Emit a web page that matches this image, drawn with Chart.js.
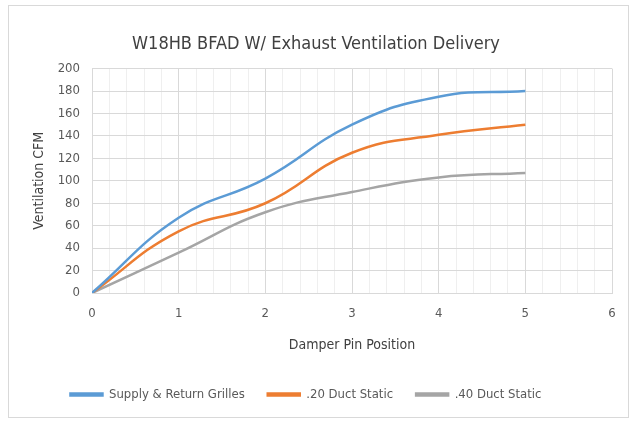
<!DOCTYPE html>
<html>
<head>
<meta charset="utf-8">
<script src="https://cdn.jsdelivr.net/npm/chart.js@4/dist/chart.umd.min.js"></script>
<style>
  html, body { margin: 0; padding: 0; background: #fff; }
  #wrap { width: 633px; height: 423px; position: relative; }
</style>
</head>
<body>
<div id="wrap"><canvas id="lineChart" width="633" height="423"></canvas></div>
<script>
// dados
var positions = [0, 1, 2, 3, 4, 5];
var supplyReturn = [0, 67, 102, 150, 175, 180];
var duct20 = [0, 55, 80, 125, 141, 150];
var duct40 = [0, 36, 72, 90, 103, 107];
var seriesNames = ['Supply & Return Grilles', '.20 Duct Static', '.40 Duct Static'];
var xTicks = [0, 1, 2, 3, 4, 5, 6];
var yTicks = [0, 20, 40, 60, 80, 100, 120, 140, 160, 180, 200];

function toPoints(values) {
    return values.map(function(v, i) { return { x: positions[i], y: v }; });
}

function isMajor(v) {
    return Math.abs(v - Math.round(v)) < 1e-6;
}

// moldura cinza em volta do grafico + titulo um pouco para a direita
var frame = {
    id: 'frame',
    afterLayout: function(chart) {
        if (chart.titleBlock) {
            chart.titleBlock.left += 10;
            chart.titleBlock.right += 10;
        }
    },
    beforeDraw: function(chart) {
        var c = chart.ctx;
        c.save();
        c.fillStyle = '#ffffff';
        c.fillRect(0, 0, chart.width, chart.height);
        c.strokeStyle = '#d9d9d9';
        c.lineWidth = 1;
        c.strokeRect(8.5, 5.5, 620, 412);
        c.restore();
    }
};

var ctx = document.getElementById('lineChart').getContext('2d');
var fontFam = "'Liberation Sans Narrow', 'DejaVu Sans Condensed', Roboto, sans-serif";

var colors = ['#5b9bd5', '#ed7d31', '#a5a5a5'];
var allSeries = [supplyReturn, duct20, duct40];

var data = {
    datasets: allSeries.map(function(s, i) {
        return {
            label: seriesNames[i],
            data: toPoints(s),
            borderColor: colors[i],
            backgroundColor: colors[i],
            borderWidth: 2.5,
            pointRadius: 0,
            tension: 0.45,
            fill: false
        };
    })
};

var options = {
    responsive: false,
    animation: false,
    layout: { padding: { left: 0, right: 21, top: 0, bottom: 12 } },
    plugins: {
        title: {
            display: true,
            text: 'W18HB BFAD W/ Exhaust Ventilation Delivery',
            color: '#404040',
            font: { family: fontFam, size: 18, weight: 'normal' },
            padding: { top: 34, bottom: 13 }
        },
        legend: {
            position: 'bottom',
            labels: {
                boxWidth: 32,
                boxHeight: 2,
                padding: 23,
                color: '#595959',
                font: { family: fontFam, size: 13 }
            }
        },
        tooltip: { enabled: false }
    },
    scales: {
        x: {
            type: 'linear',
            min: 0,
            max: 6,
            afterFit: function(scale) { scale.height = 72; },
            afterBuildTicks: function(scale) {
                var t = [];
                for (var i = 0; i <= 30; i++) t.push({ value: i / 5 });
                scale.ticks = t;
            },
            ticks: {
                autoSkip: false,
                maxRotation: 0,
                padding: 13,
                color: '#595959',
                font: { family: fontFam, size: 13 },
                callback: function(v) { return isMajor(v) && xTicks.indexOf(Math.round(v)) >= 0 ? String(Math.round(v)) : ''; }
            },
            grid: {
                drawTicks: false,
                color: function(c) { return isMajor(c.tick.value) ? '#d9d9d9' : '#efefef'; },
                lineWidth: 1
            },
            border: { color: '#d9d9d9' },
            title: {
                display: true,
                text: 'Damper Pin Position',
                color: '#404040',
                font: { family: fontFam, size: 14 },
                padding: { top: 0, bottom: 11 }
            }
        },
        y: {
            min: 0,
            max: 200,
            afterFit: function(scale) { scale.width = 92; },
            afterBuildTicks: function(scale) {
                scale.ticks = yTicks.map(function(v) { return { value: v }; });
            },
            ticks: {
                padding: 12,
                color: '#595959',
                font: { family: fontFam, size: 13 }
            },
            grid: {
                drawTicks: false,
                color: '#d9d9d9'
            },
            border: { color: '#d9d9d9' },
            title: {
                display: true,
                text: 'Ventilation CFM',
                color: '#404040',
                font: { family: fontFam, size: 14 },
                padding: { top: 31, bottom: 0 }
            }
        }
    }
};

var lineChart = new Chart(ctx, {
    type: 'line',
    data: data,
    options: options,
    plugins: [frame]
});
</script>
</body>
</html>
